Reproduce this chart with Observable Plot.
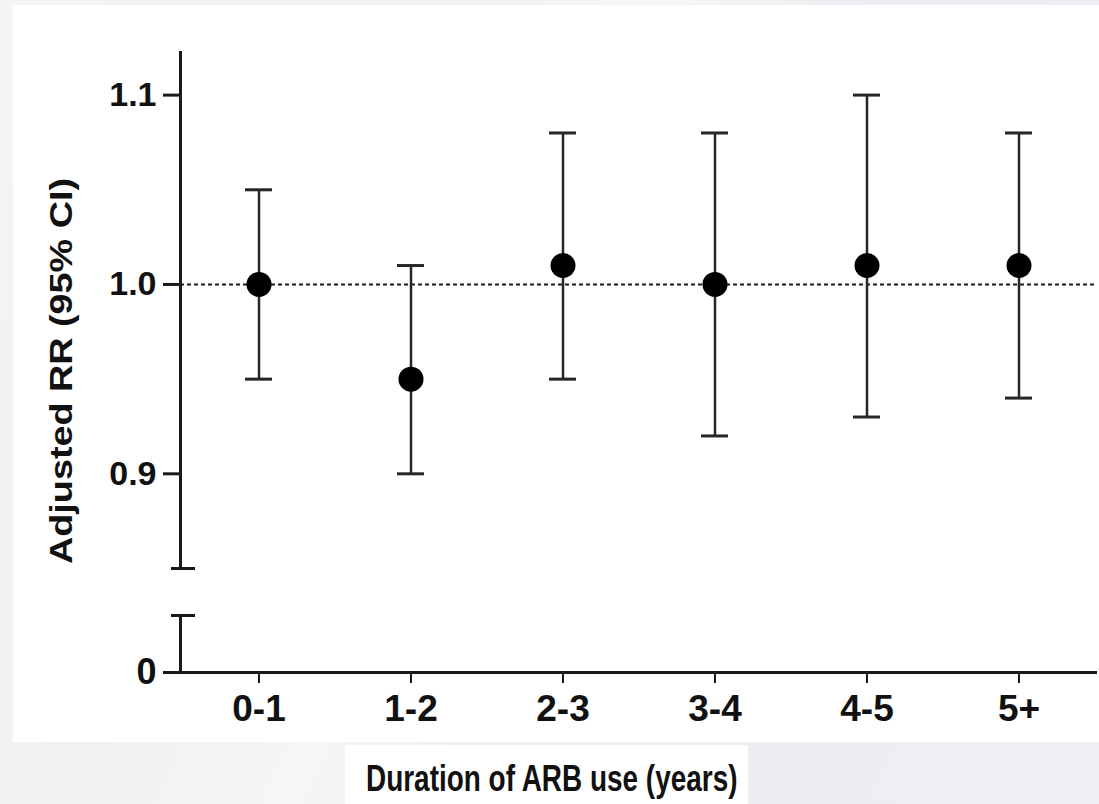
<!DOCTYPE html>
<html>
<head>
<meta charset="utf-8">
<script src="https://cdn.jsdelivr.net/npm/d3@7"></script>
<script src="https://cdn.jsdelivr.net/npm/@observablehq/plot@0.6"></script>
<style>
  html, body { margin: 0; padding: 0; }
  body { width: 1099px; height: 804px; overflow: hidden; font-family: "Liberation Sans", Arial, sans-serif; }
  #page { position: relative; width: 1099px; height: 804px;
    background: linear-gradient(115deg, #f4f4f6 0%, #f1f1f4 30%, #f6f6f8 45%, #ececf1 60%, #eeeef3 100%); overflow: hidden; }
  #panel { position: absolute; left: 13px; top: 5px; width: 1086px; height: 737px; background: #fff; }
  #upper, #lower { position: absolute; left: 0; }
  #upper { top: 0; }
  #lower { top: 580px; }
  #ylabel { position: absolute; left: 61px; top: 371px; white-space: nowrap;
    font: bold 32px "Liberation Sans", Arial, sans-serif; color: #111;
    transform: translate(-50%, -50%) rotate(-90deg) scaleX(1.18); }
  #xbox { position: absolute; left: 345px; top: 745px; width: 403px; height: 59px; background: #fff; }
  #xlabel { position: absolute; left: 366px; top: 758px; white-space: nowrap; line-height: 1;
    font: bold 37px "Liberation Sans", Arial, sans-serif; color: #111;
    transform-origin: 0 0; transform: scaleX(0.755); }
</style>
</head>
<body>
<div id="page">
  <div id="panel"></div>
  <div id="upper"></div>
  <div id="lower"></div>
  <div id="ylabel">Adjusted RR (95% CI)</div>
  <div id="xbox"></div>
  <div id="xlabel">Duration of ARB use (years)</div>
</div>
<script>
const categories = ["0-1", "1-2", "2-3", "3-4", "4-5", "5+"];
const rr    = [1.00, 0.95, 1.01, 1.00, 1.01, 1.01];
const lower = [0.95, 0.90, 0.95, 0.92, 0.93, 0.94];
const upper = [1.05, 1.01, 1.08, 1.08, 1.10, 1.08];
const yTicksUpper = [0.9, 1.0, 1.1];
const yTicksLower = [0];
const referenceLine = [1];
const breakUpper = [0.85];
const breakLower = [0.03];

const data = categories.map((c, i) => ({cat: c, rr: rr[i], lo: lower[i], hi: upper[i]}));

const ink = "#1a1a1a";
const xScale = {type: "band", domain: categories, paddingInner: 0.823, paddingOuter: 0.41};
const font = {fontFamily: "'Liberation Sans', Arial, sans-serif", fontWeight: "bold", fontSize: "34px", color: "#111", background: "transparent", overflow: "visible"};

const upperPlot = Plot.plot({
  width: 1099, height: 580,
  marginLeft: 180, marginRight: 2, marginTop: 52, marginBottom: 12,
  style: font,
  x: xScale,
  y: {domain: [0.85, 1.1225]},
  marks: [
    Plot.ruleY(referenceLine, {stroke: ink, strokeWidth: 2, strokeDasharray: "4,3"}),
    Plot.ruleX(data, {x: "cat", y1: "lo", y2: "hi", stroke: "#262626", strokeWidth: 2.5}),
    Plot.tickY(data, {x: "cat", y: "lo", stroke: "#262626", strokeWidth: 3}),
    Plot.tickY(data, {x: "cat", y: "hi", stroke: "#262626", strokeWidth: 3}),
    Plot.dot(data, {x: "cat", y: "rr", r: 12.5, fill: "#000", stroke: "none"}),
    Plot.axisY(yTicksUpper, {tickSize: 17, tickPadding: 7, tickFormat: d3.format(".1f"), stroke: ink, strokeWidth: 3, label: null, fontSize: 34, style: {letterSpacing: "1px"}}),
    Plot.axisX({ticks: [], label: null}),
    Plot.frame({anchor: "left", stroke: ink, strokeWidth: 3}),
    Plot.ruleY(breakUpper, {stroke: ink, strokeWidth: 3, insetLeft: -9, insetRight: 902})
  ]
});
document.getElementById("upper").appendChild(upperPlot);

const lowerPlot = Plot.plot({
  width: 1099, height: 224,
  marginLeft: 180, marginRight: 2, marginTop: 35, marginBottom: 132,
  style: font,
  x: xScale,
  y: {domain: [0, 0.03]},
  marks: [
    Plot.axisY(yTicksLower, {tickSize: 17, tickPadding: 7, tickFormat: d3.format("d"), stroke: ink, strokeWidth: 3, label: null, fontSize: 36}),
    Plot.axisX({tickSize: 11, tickPadding: 11, stroke: ink, strokeWidth: 2, label: null, fontSize: 37}),
    Plot.ruleY([0], {stroke: ink, strokeWidth: 3}),
    Plot.frame({anchor: "left", stroke: ink, strokeWidth: 3}),
    Plot.ruleY(breakLower, {stroke: ink, strokeWidth: 3, insetLeft: -9, insetRight: 902})
  ]
});
document.getElementById("lower").appendChild(lowerPlot);
</script>
</body>
</html>
